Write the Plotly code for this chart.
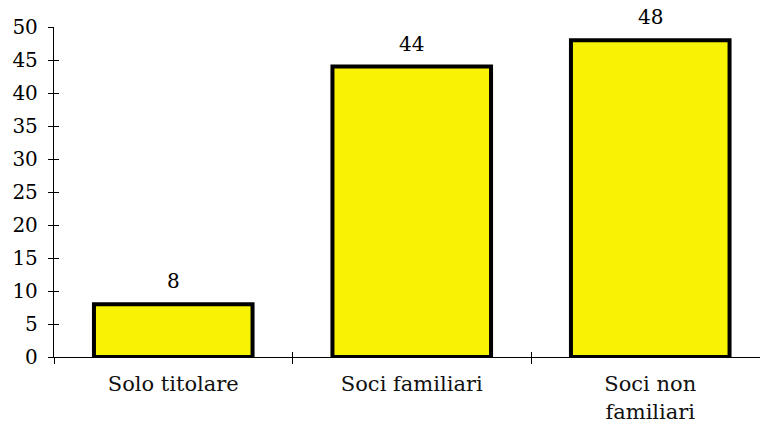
import plotly.graph_objects as go

categories = ["Solo titolare", "Soci familiari", "Soci non<br>familiari"]
values = [8, 44, 48]
y_ticks = [0, 5, 10, 15, 20, 25, 30, 35, 40, 45, 50]

FONT = "DejaVu Serif"
BAR_FILL = "#F8F204"

fig = go.Figure()
fig.add_trace(go.Bar(
    x=categories, y=values, width=0.665,
    marker=dict(color=BAR_FILL, line=dict(color="black", width=4)),
    hoverinfo="skip",
))

# value labels above each bar
for c, v in zip(categories, values):
    fig.add_annotation(x=c, y=v, text=str(v), showarrow=False,
                       yanchor="bottom", yshift=9,
                       font=dict(family=FONT, size=20, color="black"))

# helper trace so the overlay axes (inner tick halves) get drawn
fig.add_trace(go.Scatter(x=[0], y=[0], xaxis="x2", yaxis="y2",
                         mode="markers", marker=dict(opacity=0),
                         hoverinfo="skip", showlegend=False))

n = len(categories)
x_hi = -0.5 + 706 / 238.5

fig.update_layout(
    width=760, height=423,
    margin=dict(l=54, r=0, t=27, b=66),
    plot_bgcolor="white", paper_bgcolor="white",
    showlegend=False,
    xaxis=dict(
        type="category", range=[-0.5, x_hi],
        tickson="boundaries", ticks="outside", ticklen=6, tickwidth=1,
        tickcolor="black", showline=True, linecolor="black", linewidth=1.3,
        showgrid=False, zeroline=False, ticklabelstandoff=8,
        tickfont=dict(family=FONT, size=21, color="#111"),
    ),
    yaxis=dict(
        range=[0, 50], tickvals=y_ticks, ticks="outside", ticklen=5,
        tickwidth=1, tickcolor="black", showline=True, linecolor="black",
        linewidth=1.3, showgrid=False, zeroline=False,
        ticklabelstandoff=6,
        tickfont=dict(family=FONT, size=20, color="black"),
    ),
    xaxis2=dict(
        overlaying="x", anchor="y", range=[-0.5, x_hi],
        tickvals=[i - 0.5 for i in range(n + 1)], ticks="inside", ticklen=5,
        tickcolor="black", showticklabels=False, showline=False,
        showgrid=False, zeroline=False,
    ),
    yaxis2=dict(
        overlaying="y", anchor="x", range=[0, 50], tickvals=y_ticks,
        ticks="inside", ticklen=5, tickcolor="black", showticklabels=False,
        showline=False, showgrid=False, zeroline=False,
    ),
)

fig.write_html("out.html")
